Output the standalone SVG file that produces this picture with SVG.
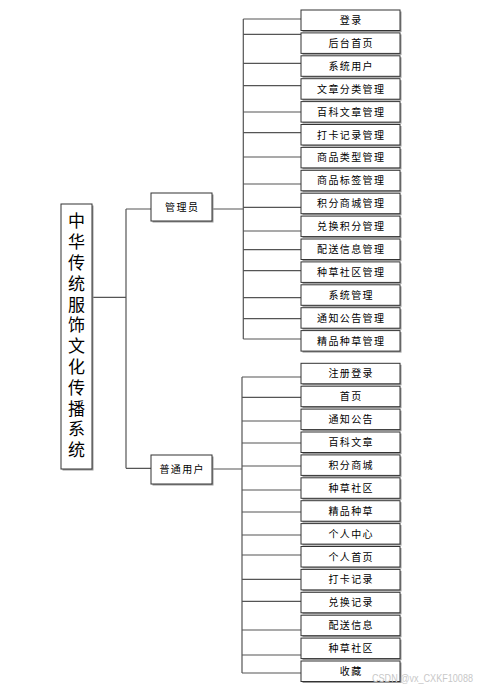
<svg xmlns="http://www.w3.org/2000/svg" width="479" height="690" viewBox="0 0 479 690">
<style>
.bg{fill:#fff}
.sh{fill:#9a9a9a}
.bx{fill:#fff;stroke:#333;stroke-width:1}
.t{font-family:"Noto Sans CJK SC","Noto Sans CJK JP",sans-serif;font-size:10px;letter-spacing:1.4px;text-anchor:middle;fill:#000}
.tt{font-family:"Noto Sans CJK SC","Noto Sans CJK JP",sans-serif;font-size:17px;writing-mode:vertical-rl;letter-spacing:3.8px;fill:#000}
.ln{fill:none;stroke:#555;stroke-width:1.2}
.wm{font-family:"Liberation Sans",Arial,sans-serif;font-size:10px;fill:#c8c8c8}
</style>
<defs>
<g id="leaf"><rect class="sh" x="1.5" y="1.5" width="99" height="20.5"/><rect class="bx" x="0" y="0" width="99" height="20.5"/></g>
</defs>
<rect class="bg" x="0" y="0" width="479" height="690"/>
<g id="connectors" class="ln">
<path d="M92 297.3H126M126 209V468.3M126 209H151M126 468.3H151"/>
<path d="M212 209H243.3M243.3 19V339M243.3 19H301M243.3 34.3H301M243.3 63.3H301M243.3 85.7H301M243.3 112H301M243.3 132.7H301M243.3 157H301M243.3 184H301M243.3 207.3H301M243.3 231H301M243.3 249.7H301M243.3 270.7H301M243.3 297.7H301M243.3 318.7H301M243.3 339H301"/>
<path d="M212 469H242M242 377V673M242 377H301M242 397.3H301M242 421H301M242 443H301M242 466H301M242 490H301M242 512H301M242 535H301M242 555H301M242 579.3H301M242 601.3H301M242 630H301M242 655H301M242 673H301"/>
</g>
<g id="root">
<rect class="sh" x="62.5" y="205.5" width="31" height="265"/>
<rect class="bx" x="61" y="204" width="31" height="265"/>
<text class="tt" x="76.5" y="212.5">中华传统服饰文化传播系统</text>
</g>
<g id="admin">
<rect class="sh" x="152.5" y="194.5" width="61" height="28"/>
<rect class="bx" x="151" y="193" width="61" height="28"/>
<text class="t" x="182.2" y="210.8">管理员</text>
</g>
<g id="user">
<rect class="sh" x="152.5" y="456.5" width="61" height="29"/>
<rect class="bx" x="151" y="455" width="61" height="29"/>
<text class="t" x="182.2" y="473.3">普通用户</text>
</g>
<g id="a1"><use href="#leaf" x="301" y="10"/><text class="t" x="351.2" y="24">登录</text></g>
<g id="a2"><use href="#leaf" x="301" y="32.9"/><text class="t" x="351.2" y="46.9">后台首页</text></g>
<g id="a3"><use href="#leaf" x="301" y="55.8"/><text class="t" x="351.2" y="69.8">系统用户</text></g>
<g id="a4"><use href="#leaf" x="301" y="78.7"/><text class="t" x="351.2" y="92.7">文章分类管理</text></g>
<g id="a5"><use href="#leaf" x="301" y="101.6"/><text class="t" x="351.2" y="115.6">百科文章管理</text></g>
<g id="a6"><use href="#leaf" x="301" y="124.5"/><text class="t" x="351.2" y="138.5">打卡记录管理</text></g>
<g id="a7"><use href="#leaf" x="301" y="147.4"/><text class="t" x="351.2" y="161.4">商品类型管理</text></g>
<g id="a8"><use href="#leaf" x="301" y="170.3"/><text class="t" x="351.2" y="184.3">商品标签管理</text></g>
<g id="a9"><use href="#leaf" x="301" y="193.2"/><text class="t" x="351.2" y="207.2">积分商城管理</text></g>
<g id="a10"><use href="#leaf" x="301" y="216.1"/><text class="t" x="351.2" y="230.1">兑换积分管理</text></g>
<g id="a11"><use href="#leaf" x="301" y="239"/><text class="t" x="351.2" y="253">配送信息管理</text></g>
<g id="a12"><use href="#leaf" x="301" y="261.9"/><text class="t" x="351.2" y="275.9">种草社区管理</text></g>
<g id="a13"><use href="#leaf" x="301" y="284.8"/><text class="t" x="351.2" y="298.8">系统管理</text></g>
<g id="a14"><use href="#leaf" x="301" y="307.7"/><text class="t" x="351.2" y="321.7">通知公告管理</text></g>
<g id="a15"><use href="#leaf" x="301" y="330.6"/><text class="t" x="351.2" y="344.6">精品种草管理</text></g>
<g id="u1"><use href="#leaf" x="301" y="363.3"/><text class="t" x="351.2" y="377.3">注册登录</text></g>
<g id="u2"><use href="#leaf" x="301" y="386.2"/><text class="t" x="351.2" y="400.2">首页</text></g>
<g id="u3"><use href="#leaf" x="301" y="409.1"/><text class="t" x="351.2" y="423.1">通知公告</text></g>
<g id="u4"><use href="#leaf" x="301" y="432"/><text class="t" x="351.2" y="446">百科文章</text></g>
<g id="u5"><use href="#leaf" x="301" y="454.9"/><text class="t" x="351.2" y="468.9">积分商城</text></g>
<g id="u6"><use href="#leaf" x="301" y="477.8"/><text class="t" x="351.2" y="491.8">种草社区</text></g>
<g id="u7"><use href="#leaf" x="301" y="500.7"/><text class="t" x="351.2" y="514.7">精品种草</text></g>
<g id="u8"><use href="#leaf" x="301" y="523.6"/><text class="t" x="351.2" y="537.6">个人中心</text></g>
<g id="u9"><use href="#leaf" x="301" y="546.5"/><text class="t" x="351.2" y="560.5">个人首页</text></g>
<g id="u10"><use href="#leaf" x="301" y="569.4"/><text class="t" x="351.2" y="583.4">打卡记录</text></g>
<g id="u11"><use href="#leaf" x="301" y="592.3"/><text class="t" x="351.2" y="606.3">兑换记录</text></g>
<g id="u12"><use href="#leaf" x="301" y="615.2"/><text class="t" x="351.2" y="629.2">配送信息</text></g>
<g id="u13"><use href="#leaf" x="301" y="638.1"/><text class="t" x="351.2" y="652.1">种草社区</text></g>
<g id="u14"><use href="#leaf" x="301" y="661"/><text class="t" x="351.2" y="675">收藏</text></g>
<text class="wm" x="372" y="681.5" textLength="101" lengthAdjust="spacingAndGlyphs">CSDN @vx_CXKF10088</text>
</svg>
